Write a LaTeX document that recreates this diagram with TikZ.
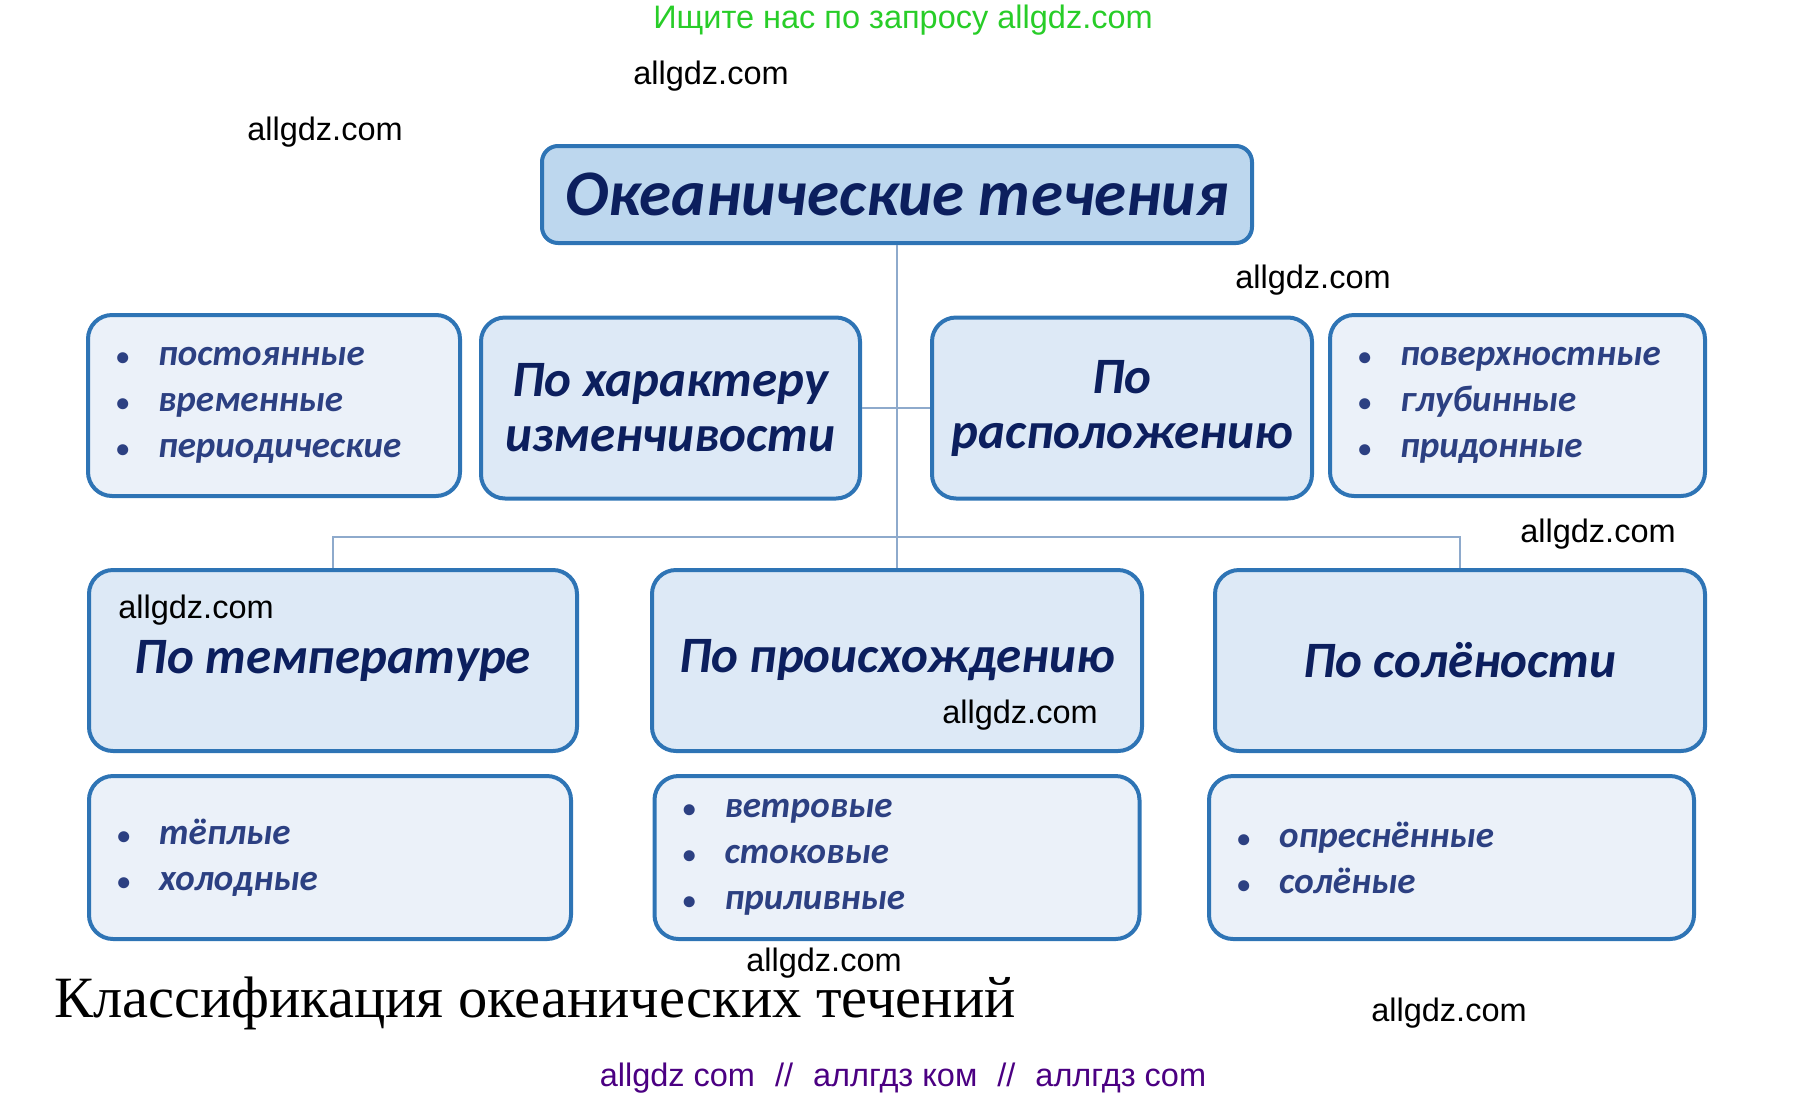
\documentclass[tikz,border=0pt]{standalone}
\usepackage{fontspec}
\setmainfont{Carlito}
\newfontfamily\wmfont{Liberation Sans}
\newfontfamily\capfont{Liberation Serif}
\usetikzlibrary{positioning,calc}
\definecolor{boxline}{RGB}{46,116,181}
\definecolor{titlefill}{RGB}{189,215,238}
\definecolor{catfill}{RGB}{221,233,246}
\definecolor{listfill}{RGB}{235,241,249}
\definecolor{navy}{RGB}{12,31,94}
\definecolor{listtext}{RGB}{44,64,130}
\definecolor{linkcol}{RGB}{142,170,204}
\definecolor{wmgreen}{RGB}{40,205,40}
\definecolor{wmpurple}{RGB}{75,0,130}
\tikzset{
  basebox/.style={draw=boxline,line width=4pt,rounded corners=24pt,inner sep=0pt},
  titlebox/.style={basebox,fill=titlefill,rounded corners=16pt,minimum width=710pt,minimum height=97pt,
    font=\fontsize{65}{70}\selectfont\bfseries\itshape,text=navy},
  catbox/.style={basebox,fill=catfill,minimum height=181pt,align=center,
    font=\fontsize{51}{55}\selectfont\bfseries\itshape,text=navy},
  listbox/.style={basebox,fill=listfill,inner xsep=28pt,align=left,
    font=\fontsize{37}{46}\selectfont\bfseries\itshape,text=listtext},
  link/.style={draw=linkcol,line width=2.5pt},
  wm/.style={font=\wmfont\fontsize{32.5}{32.5}\selectfont,text=black,inner sep=0pt},
}
\newcommand{\itm}[1]{\makebox[42pt][l]{\fontsize{26}{26}\selectfont\textbullet}#1}
\begin{document}
\begin{tikzpicture}[x=1pt,y=-1pt]
  \useasboundingbox (0,0) rectangle (1800,1096);

  %% top level
  \node[titlebox] (title) at (897,194.5) {Океанические течения};

  %% second row
  \node[listbox,text width=316pt,minimum height=181pt] (changes) at (274,405.5)
    {\itm{постоянные}\\\itm{временные}\\\itm{периодические}};
  \node[catbox,minimum width=379pt] (charact) at (670.5,408) {По характеру\\изменчивости};
  \node[catbox,minimum width=380pt] (place) at (1122,408) {По\\расположению};
  \node[listbox,text width=319pt,minimum height=181pt] (depths) at (1517.5,405.5)
    {\itm{поверхностные}\\\itm{глубинные}\\\itm{придонные}};

  %% third row
  \node[catbox,minimum width=488pt] (temp) at (333,660.5) {По температуре};
  \node[catbox,minimum width=490pt] (origin) at (897,660.5) {По происхождению};
  \node[catbox,minimum width=490pt] (salt) at (1460,660.5) {По солёности};

  \node[listbox,text width=426pt,minimum height=163pt,below=21pt of temp,xshift=-3pt] (temps)
    {\itm{тёплые}\\\itm{холодные}};
  \node[listbox,text width=429pt,minimum height=163pt,below=21pt of origin] (origins)
    {\itm{ветровые}\\\itm{стоковые}\\\itm{приливные}};
  \node[listbox,text width=429pt,minimum height=163pt,below=21pt of salt,xshift=-8.5pt] (salts)
    {\itm{опреснённые}\\\itm{солёные}};

  %% connectors
  \coordinate (bus) at (897,537);
  \draw[link] (title.south) -- (origin.north);
  \draw[link] (charact.east) -- (place.west);
  \draw[link] (temp.north) |- (bus) -| (salt.north);

  %% caption and watermarks
  \node[anchor=base west,inner sep=0pt,font=\capfont\fontsize{58.5}{58.5}\selectfont] (caption) at (54,1017)
    {Классификация океанических течений};
  \node[wm,text=wmgreen] (wmtop) at (903,20) {Ищите нас по запросу allgdz.com};
  \node[wm,text=wmpurple] (wmbottom) at (903,1078)
    {allgdz com\hspace{20pt}//\hspace{20pt}аллгдз ком\hspace{20pt}//\hspace{20pt}аллгдз com};
  \foreach \px/\py [count=\i] in {711/76,325/132,1313/280,1598/534,196/610,1020/715,824/963,1449/1013}
    \node[wm] (wm\i) at (\px,\py) {allgdz.com};
\end{tikzpicture}
\end{document}
